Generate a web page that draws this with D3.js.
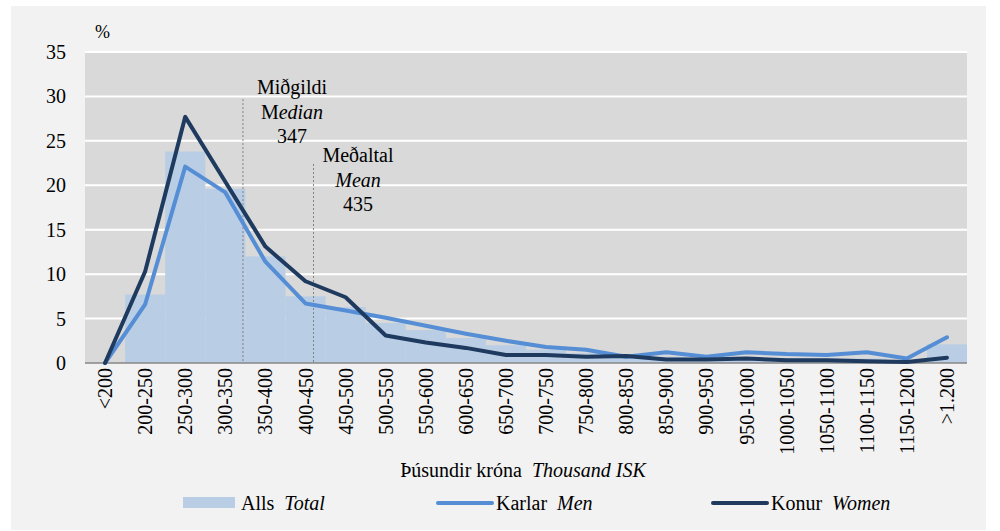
<!DOCTYPE html>
<html>
<head>
<meta charset="utf-8">
<script src="https://cdn.jsdelivr.net/npm/d3@7"></script>
<style>
  body { margin: 0; background: #fff; }
  text { font-family: "Liberation Serif", "Times New Roman", serif !important; fill: #000; }
</style>
</head>
<body>
<svg id="chart" width="1000" height="531"></svg>
<script>
// income brackets, thousand ISK
var categories = ['<200','200-250','250-300','300-350','350-400','400-450','450-500','500-550',
  '550-600','600-650','650-700','700-750','750-800','800-850','850-900','900-950','950-1000',
  '1000-1050','1050-1100','1100-1150','1150-1200','>1.200'];
var total = [0, 7.7, 23.8, 19.6, 12.0, 7.5, 6.3, 4.5, 3.7, 2.8, 2.0, 1.5, 1.1, 0.8, 0.7, 0.5, 0.6, 0.5, 0.5, 0.5, 0.3, 2.1];
var men   = [0, 6.6, 22.1, 19.2, 11.4, 6.7, 5.9, 5.1, 4.2, 3.3, 2.5, 1.8, 1.5, 0.7, 1.2, 0.7, 1.2, 1.0, 0.9, 1.2, 0.5, 2.9];
var women = [0, 10.3, 27.7, 20.4, 13.1, 9.2, 7.4, 3.1, 2.3, 1.7, 0.9, 0.9, 0.7, 0.8, 0.4, 0.4, 0.5, 0.3, 0.3, 0.2, 0.1, 0.6];
var yTicks = [0, 5, 10, 15, 20, 25, 30, 35];
var medianValue = 347, meanValue = 435;
var valueDomain = [150, 1250]; // bracket edges behind the category axis

(function() {
  var svg = d3.select('#chart');
  var FONT = 'Liberation Serif';
  var left = 85, right = 967, plotTop = 52, bottom = 363;

  svg.append('rect').attr('x', 11).attr('y', 6).attr('width', 975).attr('height', 524).attr('fill', '#f2f2f2');
  svg.append('rect').attr('x', left).attr('y', plotTop).attr('width', right - left).attr('height', bottom - plotTop).attr('fill', '#d9d9d9');

  var x = d3.scaleBand().domain(categories).range([left, right]).padding(0);
  var xv = d3.scaleLinear().domain(valueDomain).range([left, right]);
  var y = d3.scaleLinear().domain([0, 35]).range([bottom, plotTop]);

  // gridlines
  svg.append('g').selectAll('line').data(yTicks.filter(function(d) { return d > 0; }))
    .enter().append('line')
    .attr('x1', left).attr('x2', right)
    .attr('y1', function(d) { return y(d); }).attr('y2', function(d) { return y(d); })
    .attr('stroke', '#fff').attr('stroke-width', 2);

  // y labels
  svg.append('g').selectAll('text').data(yTicks).enter().append('text')
    .attr('font-family', FONT)
    .attr('x', 66).attr('y', function(d) { return y(d) + 7; })
    .attr('text-anchor', 'end').attr('font-size', 20).text(function(d) { return d; });
  svg.append('text').attr('font-family', FONT).attr('x', 95).attr('y', 38).attr('font-size', 18).text('%');

  // bars
  svg.append('g').selectAll('rect').data(total).enter().append('rect')
    .attr('x', function(d, i) { return x(categories[i]); })
    .attr('width', x.bandwidth())
    .attr('y', function(d) { return y(d); })
    .attr('height', function(d) { return bottom - y(d); })
    .attr('fill', '#b9cde5');

  // axis line
  svg.append('line').attr('x1', left).attr('x2', right).attr('y1', bottom).attr('y2', bottom)
    .attr('stroke', '#868686').attr('stroke-width', 1.5);

  // median / mean markers
  var marks = [
    {v: medianValue, top: 29.7, lines: [['Mi\u00f0gildi', ''], ['M', 'edian'], ['347', '']], tx: 292, ty: 94},
    {v: meanValue, top: 22.4, lines: [['Me\u00f0altal', ''], ['', 'Mean'], ['435', '']], tx: 358, ty: 162}
  ];
  marks.forEach(function(m) {
    svg.append('line').attr('x1', xv(m.v)).attr('x2', xv(m.v))
      .attr('y1', y(m.top)).attr('y2', bottom)
      .attr('stroke', '#808080').attr('stroke-width', 1).attr('stroke-dasharray', '2,2');
    m.lines.forEach(function(l, i) {
      var t = svg.append('text').attr('font-family', FONT).attr('x', m.tx).attr('y', m.ty + i * 24.5)
        .attr('text-anchor', 'middle').attr('font-size', 20);
      if (l[0]) t.append('tspan').text(l[0]);
      if (l[1]) t.append('tspan').attr('font-style', 'italic').text(l[1]);
    });
  });

  // lines
  var line = d3.line()
    .x(function(d, i) { return x(categories[i]) + x.bandwidth() / 2; })
    .y(function(d) { return y(d); });
  svg.append('path').datum(men).attr('d', line).attr('fill', 'none')
    .attr('stroke', '#558ed5').attr('stroke-width', 4).attr('stroke-linejoin', 'round').attr('stroke-linecap', 'round');
  svg.append('path').datum(women).attr('d', line).attr('fill', 'none')
    .attr('stroke', '#1f3a5f').attr('stroke-width', 4).attr('stroke-linejoin', 'round').attr('stroke-linecap', 'round');

  // x labels
  svg.append('g').selectAll('text').data(categories).enter().append('text')
    .attr('font-family', FONT)
    .attr('transform', function(d) { return 'translate(' + (x(d) + x.bandwidth() / 2 + 7) + ',368) rotate(-90)'; })
    .attr('text-anchor', 'end').attr('font-size', 20).text(function(d) { return d; });

  // axis title
  var xt = svg.append('text').attr('font-family', FONT).attr('x', 523).attr('y', 477)
    .attr('text-anchor', 'middle').attr('font-size', 20).style('white-space', 'pre');
  xt.append('tspan').text('\u00deúsundir króna  ');
  xt.append('tspan').attr('font-style', 'italic').text('Thousand ISK');

  // legend
  var legend = [
    {type: 'rect', color: '#b9cde5', x: 183, a: 'Alls', b: 'Total'},
    {type: 'line', color: '#558ed5', x: 438, a: 'Karlar', b: 'Men'},
    {type: 'line', color: '#1f3a5f', x: 713, a: 'Konur', b: 'Women'}
  ];
  legend.forEach(function(l) {
    if (l.type === 'rect') {
      svg.append('rect').attr('x', l.x).attr('y', 497).attr('width', 52).attr('height', 11).attr('fill', l.color);
    } else {
      svg.append('line').attr('x1', l.x).attr('x2', l.x + 54).attr('y1', 503).attr('y2', 503)
        .attr('stroke', l.color).attr('stroke-width', 4).attr('stroke-linecap', 'round');
    }
    var t = svg.append('text').attr('font-family', FONT).attr('x', l.x + 58).attr('y', 510)
      .attr('font-size', 20).style('white-space', 'pre');
    t.append('tspan').text(l.a + '  ');
    t.append('tspan').attr('font-style', 'italic').text(l.b);
  });
})();
</script>
</body>
</html>
